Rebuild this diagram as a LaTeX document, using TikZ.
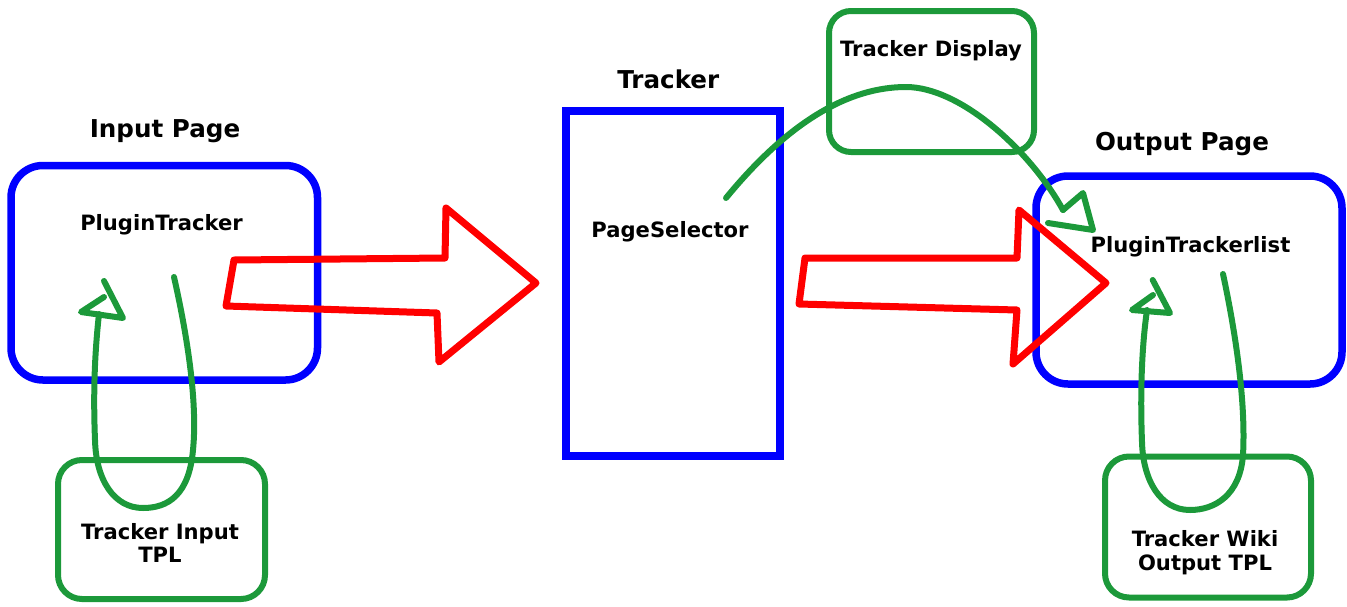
\documentclass[tikz,border=0pt]{standalone}
\usepackage{fontspec}
\setmainfont{DejaVu Sans}
\definecolor{gblue}{RGB}{0,0,255}
\definecolor{gred}{RGB}{255,0,0}
\definecolor{ggreen}{RGB}{28,153,58}
\begin{document}
\begin{tikzpicture}[x=1pt,y=-1pt,
  bluebox/.style={draw=gblue,line width=7.5pt,inner sep=0pt,outer sep=0pt},
  greenbox/.style={draw=ggreen,line width=6pt,rounded corners=24pt,inner sep=0pt,outer sep=0pt},
  redarrow/.style={draw=gred,line width=7pt,line join=round},
  greenline/.style={draw=ggreen,line width=6pt,line cap=round,line join=round},
  title/.style={font=\bfseries\fontsize{24.6}{28}\selectfont,inner sep=0pt,anchor=base},
  lbl/.style={font=\bfseries\fontsize{21.1}{23.7}\selectfont,inner sep=0pt,align=center,anchor=base}]
\useasboundingbox (0,0) rectangle (1347,606);
% blue boxes
\node[bluebox,rounded corners=32pt,minimum width=306.5pt,minimum height=214.5pt] (inbox) at (164.25,272.75) {};
\node[bluebox,minimum width=214pt,minimum height=345pt] (trbox) at (673,283.5) {};
\node[bluebox,rounded corners=32pt,minimum width=306pt,minimum height=208pt] (outbox) at (1189,280) {};
% green boxes
\node[greenbox,rounded corners=22pt,minimum width=205pt,minimum height=141pt] (disp) at (931.5,81.5) {};
\node[greenbox,minimum width=207pt,minimum height=139pt] (intpl) at (161.5,529.5) {};
\node[greenbox,minimum width=206pt,minimum height=141pt] (outtpl) at (1208,527) {};
% titles
\node[title] (tin) at (165,137.3) {Input Page};
\node[title] (ttr) at (668.3,88.3) {Tracker};
\node[title] (tout) at (1182,150.7) {Output Page};
% labels
\node[lbl] (lpt) at (161.5,230) {PluginTracker};
\node[lbl] (lps) at (670,237.3) {PageSelector};
\node[lbl] (lptl) at (1190.5,252.7) {PluginTrackerlist};
\node[lbl] (ldisp) at (931,56.7) {Tracker Display};
\node[lbl] (lintpl) at (160,562.7) {Tracker Input\\TPL};
\node[lbl] (louttpl) at (1205,570.5) {Tracker Wiki\\Output TPL};
% red arrows
\draw[redarrow] (234,260) -- (445,258) -- (446,208) -- (536,283) -- (439,362) -- (437,313) -- (226,306) -- cycle;
\draw[redarrow] (805,258) -- (1017,258) -- (1019,210) -- (1106,283) -- (1013,364) -- (1017,310) -- (799,304) -- cycle;
% green connectors
\coordinate (la) at (174,277);
\coordinate (lb) at (99,314);
\draw[greenline] (la) .. controls (186,330) and (198,400) .. (193,450)
  .. controls (189,495) and (168,508) .. (143,508)
  .. controls (114,508) and (96,480) .. (95,440)
  .. controls (93,390) and (95,350) .. (lb);
\draw[greenline] (104,281) -- (123,318) -- (81,312) -- (104,297);
\coordinate (ra) at (1223,274);
\coordinate (rb) at (1147,310);
\draw[greenline] (ra) .. controls (1235,330) and (1246,400) .. (1243,455)
  .. controls (1240,495) and (1215,510) .. (1190,510)
  .. controls (1160,510) and (1143,480) .. (1142,442)
  .. controls (1140,390) and (1142,345) .. (rb);
\draw[greenline] (1152.7,280) -- (1170,313) -- (1132,310) -- (1153,295);
\coordinate (ta) at (726,198);
\coordinate (tb) at (1063,210);
\draw[greenline] (ta) .. controls (790,120) and (850,87) .. (906,87)
  .. controls (960,87) and (1030,150) .. (tb);
\draw[greenline] (tb) -- (1083,193) -- (1093,230) -- (1048,223);
\end{tikzpicture}
\end{document}
